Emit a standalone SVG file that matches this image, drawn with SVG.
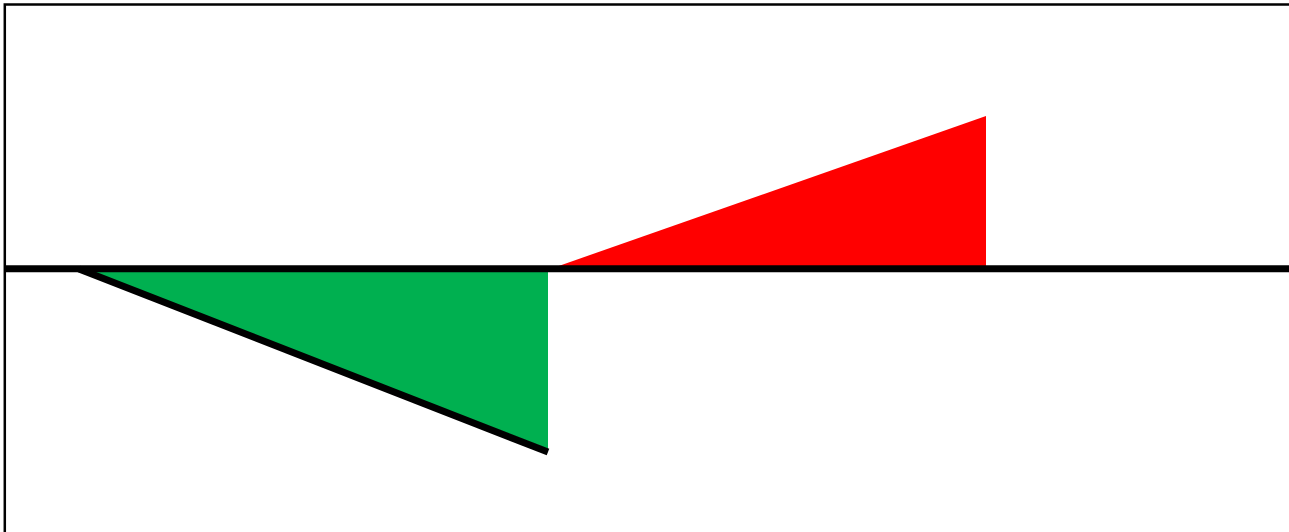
<svg xmlns="http://www.w3.org/2000/svg" width="1289" height="532" viewBox="0 0 1289 532">
<style>
.frame{fill:none;stroke:#000;stroke-width:2.5}
.axis{stroke:#000;stroke-width:7;fill:none}
.edge{stroke:#000;stroke-width:7;fill:none}
</style>
<rect width="1289" height="532" fill="#fff"/>
<rect class="frame" x="4.8" y="4.5" width="1400" height="600"/>
<g id="green-area"><polygon points="80,268 548,268 548,449" fill="#00B050"/></g>
<g id="red-area"><polygon points="553,268 986,116 986,268" fill="#FF0000"/></g>
<g id="connectors">
<line class="axis" x1="4" y1="268.8" x2="1289" y2="268.8"/>
<line class="edge" x1="79" y1="269" x2="548" y2="452"/>
</g>
</svg>
